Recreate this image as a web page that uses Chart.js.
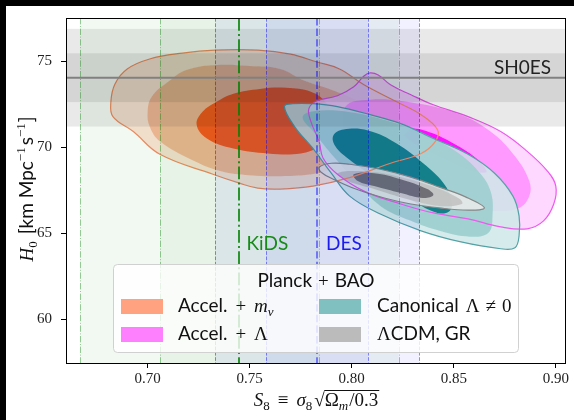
<!DOCTYPE html>
<html lang="en">
  <head>
    <meta charset="UTF-8" />
    <title>S8 - H0 contours</title>
    <script src="https://cdn.jsdelivr.net/npm/chart.js"></script>
    <style>
      body {
        margin: 0;
        background: #fff;
      }
      canvas#chart {
        display: block;
      }
    </style>
  </head>
  <body>
    <canvas id="chart" width="574" height="420"></canvas>

    <script>
      // axis ticks
      const xTicks = [0.7, 0.75, 0.8, 0.85, 0.9];
      const yTicks = [60, 65, 70, 75];

      // external measurements (mean, 1 sigma)
      const shoesH0 = 74.03, shoesSigma = 1.42;
      const kidsS8 = 0.745, kidsSigma = 0.039;
      const desS8 = 0.783, desSigma = 0.025;

      // contours [S8, H0], outer / middle / inner
      const mnuOuter = [[0.682,72.63],[0.684,73.67],[0.690,74.54],[0.701,75.12],[0.717,75.46],[0.733,75.63],[0.754,75.63],[0.770,75.40],[0.783,74.94],[0.794,74.54],[0.806,73.62],[0.822,72.63],[0.834,71.88],[0.842,71.02],[0.841,70.33],[0.834,69.63],[0.819,69.06],[0.798,68.19],[0.781,67.73],[0.765,67.56],[0.754,67.61],[0.745,67.90],[0.732,68.42],[0.706,69.58],[0.693,70.90],[0.683,71.77]];
      const mnuMid = [[0.700,72.06],[0.702,72.92],[0.710,73.79],[0.719,74.48],[0.734,74.77],[0.750,74.71],[0.765,74.54],[0.776,73.90],[0.790,73.33],[0.804,72.63],[0.816,71.77],[0.819,70.90],[0.814,70.04],[0.802,69.17],[0.783,68.48],[0.765,68.31],[0.750,68.36],[0.736,68.59],[0.721,69.29],[0.706,70.33],[0.701,71.19]];
      const mnuInner = [[0.724,71.31],[0.727,72.06],[0.733,72.58],[0.742,73.10],[0.755,73.38],[0.768,73.44],[0.780,73.21],[0.787,72.63],[0.790,71.77],[0.790,70.90],[0.784,70.04],[0.775,69.63],[0.759,69.63],[0.742,69.92],[0.729,70.50]];

      const lamOuter = [[0.779,72.23],[0.783,72.69],[0.793,72.98],[0.801,73.50],[0.806,74.13],[0.809,74.31],[0.813,74.19],[0.819,73.62],[0.829,73.04],[0.840,72.46],[0.857,71.77],[0.873,70.90],[0.886,69.75],[0.896,68.59],[0.900,67.73],[0.899,66.69],[0.894,65.71],[0.886,65.25],[0.873,65.36],[0.857,65.83],[0.840,66.17],[0.824,66.69],[0.806,67.44],[0.793,68.42],[0.786,69.35],[0.784,70.33],[0.780,71.48]];
      const lamMid = [[0.797,72.35],[0.809,72.75],[0.827,72.63],[0.852,71.94],[0.868,70.90],[0.880,69.46],[0.887,68.02],[0.887,67.15],[0.882,66.46],[0.870,66.29],[0.856,66.58],[0.839,67.15],[0.821,68.02],[0.807,69.17],[0.797,70.61]];
      const lamInner = [[0.830,71.08],[0.840,70.79],[0.849,70.27],[0.858,69.63],[0.864,69.00],[0.866,68.54],[0.859,68.59],[0.846,69.29],[0.834,69.98],[0.826,70.67]];

      const canOuter = [[0.767,72.35],[0.772,71.19],[0.781,69.92],[0.790,68.48],[0.799,67.15],[0.814,66.11],[0.834,65.13],[0.853,64.50],[0.873,64.09],[0.880,64.15],[0.882,64.84],[0.882,66.00],[0.879,67.15],[0.870,68.48],[0.857,69.58],[0.840,70.50],[0.824,71.36],[0.809,71.88],[0.793,72.35],[0.781,72.52],[0.771,72.52]];
      const canMid = [[0.776,71.77],[0.785,72.12],[0.801,72.00],[0.817,71.54],[0.834,70.85],[0.851,69.75],[0.862,68.59],[0.868,67.44],[0.869,66.00],[0.867,65.02],[0.858,64.79],[0.843,65.13],[0.829,65.71],[0.814,66.58],[0.802,68.02],[0.791,69.46],[0.782,70.79]];
      const canInner = [[0.791,70.67],[0.796,71.02],[0.808,70.96],[0.822,70.21],[0.835,69.06],[0.845,67.90],[0.849,66.86],[0.848,66.29],[0.842,66.17],[0.830,66.86],[0.814,68.02],[0.798,69.35],[0.792,70.04]];

      const lcdmOuter = [[0.784,68.83],[0.790,69.06],[0.799,69.00],[0.814,68.71],[0.829,68.25],[0.843,67.67],[0.856,67.09],[0.865,66.46],[0.857,66.34],[0.843,66.46],[0.829,66.69],[0.816,67.04],[0.802,67.56],[0.791,68.13],[0.785,68.54]];
      const lcdmMid = [[0.793,68.48],[0.806,68.59],[0.822,68.31],[0.839,67.73],[0.853,66.98],[0.854,66.69],[0.843,66.58],[0.827,66.98],[0.811,67.56],[0.798,68.02]];
      const lcdmInner = [[0.801,68.42],[0.811,68.48],[0.824,68.13],[0.837,67.56],[0.840,67.21],[0.835,67.04],[0.824,67.33],[0.811,67.73],[0.803,68.02]];

      const SERIF = '"Liberation Serif", "DejaVu Serif", serif';
      const SANS = 'Lato, "DejaVu Sans", sans-serif';

      function pts(arr) {
        return arr.map((p) => ({ x: p[0], y: p[1] }));
      }

      // fills in drawing order, then outlines on top
      const fills = [
        [mnuOuter, "rgba(253,222,208,0.88)"],
        [mnuMid, "rgba(247,178,146,0.88)"],
        [mnuInner, "rgba(255,72,15,0.88)"],
        [lamOuter, "rgba(255,211,255,0.88)"],
        [lamMid, "rgba(255,144,255,0.88)"],
        [lamInner, "rgba(255,0,255,0.9)"],
        [canOuter, "rgba(208,233,233,0.88)"],
        [canMid, "rgba(156,206,206,0.88)"],
        [canInner, "rgba(0,117,128,0.88)"],
        [lcdmOuter, "rgba(233,233,233,0.88)"],
        [lcdmMid, "rgba(193,193,193,0.88)"],
        [lcdmInner, "rgba(99,99,106,0.88)"],
      ];
      const outlines = [
        [mnuOuter, "rgba(244,140,100,1)"],
        [lamOuter, "rgba(238,90,238,1)"],
        [canOuter, "rgba(84,162,166,1)"],
        [lcdmOuter, "rgba(135,135,135,1)"],
      ];

      const datasets = [];
      fills.forEach(([arr, color]) => {
        datasets.push({
          data: pts(arr),
          showLine: true,
          fill: "shape",
          backgroundColor: color,
          borderWidth: 0,
          pointRadius: 0,
          tension: arr === lamInner ? 0.3 : 0.4,
        });
      });
      outlines.forEach(([arr, color]) => {
        datasets.push({
          data: pts(arr),
          showLine: true,
          fill: false,
          borderColor: color,
          borderWidth: 1.2,
          pointRadius: 0,
          tension: 0.4,
        });
      });
      // first in list drawn first (bottom)
      datasets.forEach((d, i) => (d.order = datasets.length - i));

      function rich(ctx, x, y, parts, align) {
        let w = 0;
        const items = parts.map((p) => {
          ctx.font = p[1];
          const it = { t: p[0], f: p[1], dy: p[2] || 0, gap: p[3] || 0 };
          it.width = ctx.measureText(p[0]).width;
          w += it.gap + it.width;
          return it;
        });
        let cx = align === "center" ? x - w / 2 : align === "right" ? x - w : x;
        ctx.textAlign = "left";
        ctx.textBaseline = "alphabetic";
        items.forEach((it) => {
          cx += it.gap;
          it.x = cx;
          ctx.font = it.f;
          ctx.fillText(it.t, cx, y + it.dy);
          cx += it.width;
          it.end = cx;
        });
        return items;
      }

      const closeLoops = {
        id: "closeLoops",
        afterDatasetsUpdate(chart) {
          chart.getSortedVisibleDatasetMetas().forEach((m) => {
            if (m.dataset) {
              m.dataset._loop = true;
              m.dataset._fullLoop = true;
            }
          });
        },
      };

      const decor = {
        id: "decor",
        afterDatasetsDraw(chart) {
          const ctx = chart.ctx;
          const xs = chart.scales.x, ys = chart.scales.y, a = chart.chartArea;
          ctx.save();
          ctx.beginPath();
          ctx.rect(a.left, a.top, a.width, a.height);
          ctx.clip();

          const vband = (lo, hi, c) => {
            const x0 = xs.getPixelForValue(lo), x1 = xs.getPixelForValue(hi);
            ctx.fillStyle = c;
            ctx.fillRect(x0, a.top, x1 - x0, a.height);
          };
          const hband = (lo, hi, c) => {
            const y0 = ys.getPixelForValue(hi), y1 = ys.getPixelForValue(lo);
            ctx.fillStyle = c;
            ctx.fillRect(a.left, y0, a.width, y1 - y0);
          };
          const vline = (v, c, lw, dash) => {
            const px = Math.round(xs.getPixelForValue(v)) + (lw === 1 ? 0.5 : 0);
            ctx.strokeStyle = c;
            ctx.lineWidth = lw;
            ctx.setLineDash(dash);
            ctx.beginPath();
            ctx.moveTo(px, a.top);
            ctx.lineTo(px, a.bottom);
            ctx.stroke();
          };

          hband(shoesH0 - 2 * shoesSigma, shoesH0 + 2 * shoesSigma, "rgba(0,0,0,0.085)");
          hband(shoesH0 - shoesSigma, shoesH0 + shoesSigma, "rgba(0,0,0,0.085)");
          vband(kidsS8 - 2 * kidsSigma, kidsS8 + 2 * kidsSigma, "rgba(0,128,0,0.05)");
          vband(kidsS8 - kidsSigma, kidsS8 + kidsSigma, "rgba(0,128,0,0.05)");
          vband(desS8 - 2 * desSigma, desS8 + 2 * desSigma, "rgba(0,0,255,0.055)");
          vband(desS8 - desSigma, desS8 + desSigma, "rgba(0,0,255,0.055)");

          [-2, -1, 1, 2].forEach((k) =>
            vline(kidsS8 + k * kidsSigma, "rgba(0,128,0,0.4)", 1, [6.4, 1.6, 1, 1.6])
          );
          [-2, -1, 1, 2].forEach((k) =>
            vline(desS8 + k * desSigma, "rgba(0,0,255,0.45)", 1, [3.7, 1.6])
          );
          vline(kidsS8, "rgba(0,128,0,0.8)", 2, [12.8, 3.2, 2, 3.2]);
          vline(desS8, "rgba(0,0,255,0.45)", 2, [7.4, 3.2]);

          // SH0ES line
          ctx.setLineDash([]);
          const yS = ys.getPixelForValue(shoesH0);
          ctx.strokeStyle = "#808080";
          ctx.lineWidth = 2;
          ctx.beginPath();
          ctx.moveTo(a.left, yS);
          ctx.lineTo(a.right, yS);
          ctx.stroke();

          ctx.font = "19px " + SANS;
          ctx.textBaseline = "alphabetic";
          ctx.textAlign = "right";
          ctx.fillStyle = "#222";
          ctx.fillText("SH0ES", a.right - 15, yS - 4);
          ctx.textAlign = "left";
          ctx.fillStyle = "#178a17";
          ctx.fillText("KiDS", xs.getPixelForValue(kidsS8) + 7, ys.getPixelForValue(64));
          ctx.fillStyle = "#1b1bf2";
          ctx.fillText("DES", xs.getPixelForValue(desS8) + 9, ys.getPixelForValue(64));
          ctx.restore();
        },
        afterDraw(chart) {
          const ctx = chart.ctx;
          const a = chart.chartArea;
          ctx.save();

          // frame
          ctx.strokeStyle = "#000";
          ctx.lineWidth = 1;
          ctx.strokeRect(a.left + 0.5, a.top + 0.5, a.width - 1, a.height);

          // legend
          ctx.fillStyle = "rgba(255,255,255,0.8)";
          ctx.strokeStyle = "rgba(204,204,204,0.9)";
          ctx.beginPath();
          ctx.roundRect(113.5, 264.5, 405, 88, 4);
          ctx.fill();
          ctx.stroke();

          const S19 = "19px " + SANS;
          const R19 = "19px " + SERIF;
          const I19 = "italic 19px " + SERIF;
          const I13 = "italic 13px " + SERIF;
          const R13 = "13px " + SERIF;
          ctx.fillStyle = "#111";
          rich(ctx, 316, 287, [["Planck", S19], ["+", R19, 0, 6], ["BAO", S19, 0, 6]], "center");

          const patches = [
            [121, 299, "#ffa280"],
            [121, 327, "#ff80ff"],
            [319, 299, "#80c0c0"],
            [319, 327, "#bbbbbb"],
          ];
          patches.forEach(([px, py, c]) => {
            ctx.fillStyle = c;
            ctx.fillRect(px, py, 42, 15);
          });
          ctx.fillStyle = "#111";
          rich(ctx, 178, 312, [["Accel.", S19], ["+", R19, 0, 8], ["m", I19, 0, 8], ["ν", I13, 4]], "left");
          rich(ctx, 178, 340, [["Accel.", S19], ["+", R19, 0, 8], ["Λ", R19, 0, 8]], "left");
          rich(ctx, 377, 312, [["Canonical", S19], ["Λ", R19, 0, 7], ["≠", R19, 0, 6], ["0", R19, 0, 6]], "left");
          rich(ctx, 377, 340, [["Λ", R19], ["CDM, GR", S19]], "left");

          // x title
          const it = rich(ctx, 316, 406, [
            ["S", I19], ["8", R13, 4],
            ["≡", R19, 0, 8],
            ["σ", I19, 0, 8], ["8", R13, 4],
            ["√", R19, 0, 2],
            ["Ω", R19], ["m", I13, 4], ["/0.3", R19, 0, 1],
          ], "center");
          ctx.strokeStyle = "#111";
          ctx.lineWidth = 1;
          ctx.beginPath();
          ctx.moveTo(it[5].end - 0.5, 406 - 15.5);
          ctx.lineTo(it[8].end + 1, 406 - 15.5);
          ctx.stroke();

          // y title
          ctx.translate(33, 189);
          ctx.rotate(-Math.PI / 2);
          rich(ctx, 0, 0, [
            ["H", I19], ["0", R13, 4],
            ["[km Mpc", S19, 0, 7], ["−1", R13, -8],
            ["s", S19, 0, 2], ["−1", R13, -8],
            ["]", S19, 0, 1],
          ], "center");
          ctx.restore();

          // dark border of the screenshot
          ctx.fillStyle = "#000";
          ctx.fillRect(0, 0, chart.width, 6);
          ctx.fillRect(0, 0, 6, chart.height);
        },
      };

      const axisTicks = (vals) => (scale) => {
        scale.ticks = vals.map((v) => ({ value: v }));
      };

      new Chart(document.getElementById("chart"), {
        type: "scatter",
        data: { datasets },
        options: {
          responsive: false,
          animation: false,
          events: [],
          layout: { padding: { top: 16, right: 8, left: 0, bottom: 0 } },
          plugins: {
            legend: { display: false },
            tooltip: { enabled: false },
          },
          scales: {
            x: {
              type: "linear",
              min: 0.66,
              max: 0.905,
              afterBuildTicks: axisTicks(xTicks),
              afterFit: (s) => { s.height = 57; },
              ticks: {
                font: { family: SERIF, size: 15 },
                color: "#222",
                padding: 2,
                maxRotation: 0,
                callback: (v) => Number(v).toFixed(2),
              },
              grid: { drawOnChartArea: false, drawTicks: true, tickLength: 5, color: "#000" },
              border: { display: false },
            },
            y: {
              type: "linear",
              min: 57.45,
              max: 77.5,
              afterBuildTicks: axisTicks(yTicks),
              afterFit: (s) => { s.width = 66; },
              ticks: {
                font: { family: SERIF, size: 15 },
                color: "#222",
                padding: 9,
                callback: (v) => String(v),
              },
              grid: { drawOnChartArea: false, drawTicks: true, tickLength: 5, color: "#000" },
              border: { display: false },
            },
          },
        },
        plugins: [closeLoops, decor],
      });
    </script>
  </body>
</html>
